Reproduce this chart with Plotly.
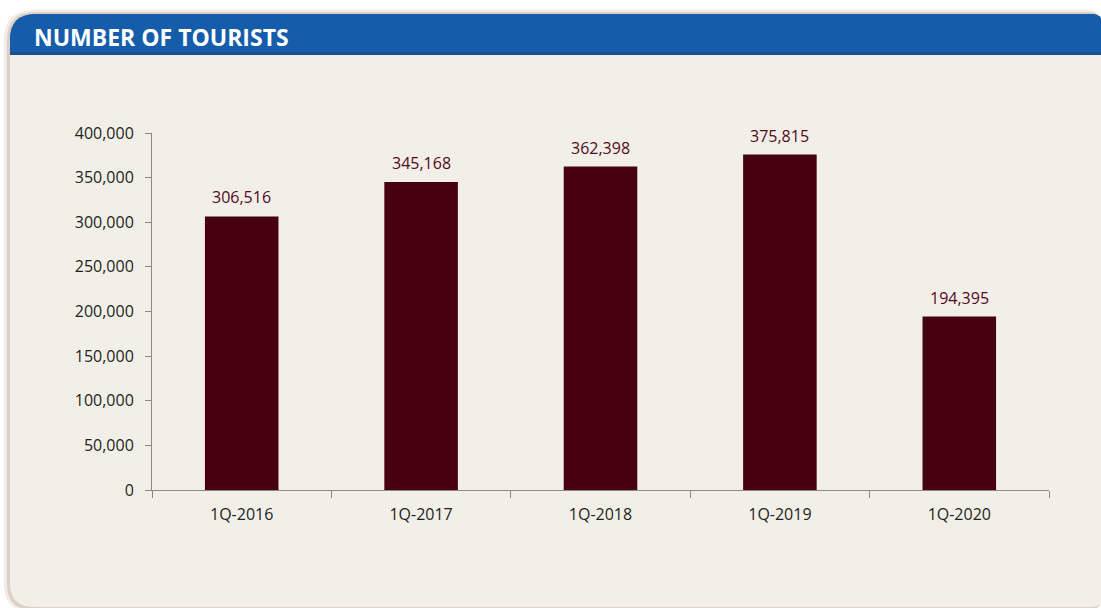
import plotly.graph_objects as go

categories = ["1Q-2016", "1Q-2017", "1Q-2018", "1Q-2019", "1Q-2020"]
tourists = [306516, 345168, 362398, 375815, 194395]
labels = ["306,516", "345,168", "362,398", "375,815", "194,395"]

W, H = 1101, 608
L, R, T, B = 152, 1049, 133, 490

def px(x):
    return (x - L) / (R - L)

def py(y):
    return (B - y) / (B - T)

def rounded_path(x0, y0, x1, y1, rtl, rtr, rbr, rbl):
    pts = []
    pts.append(f"M {px(x0)},{py(y0 + rtl)}")
    pts.append(f"Q {px(x0)},{py(y0)} {px(x0 + rtl)},{py(y0)}")
    pts.append(f"L {px(x1 - rtr)},{py(y0)}")
    pts.append(f"Q {px(x1)},{py(y0)} {px(x1)},{py(y0 + rtr)}")
    pts.append(f"L {px(x1)},{py(y1 - rbr)}")
    pts.append(f"Q {px(x1)},{py(y1)} {px(x1 - rbr)},{py(y1)}")
    pts.append(f"L {px(x0 + rbl)},{py(y1)}")
    pts.append(f"Q {px(x0)},{py(y1)} {px(x0)},{py(y1 - rbl)}")
    pts.append("Z")
    return " ".join(pts)

shapes = [
    # soft shadow
    dict(type="path", xref="paper", yref="paper", layer="below",
         path=rounded_path(4, 10, 1101, 612, 30, 14, 14, 28),
         fillcolor="#F1ECE8", line=dict(width=0)),
    dict(type="path", xref="paper", yref="paper", layer="below",
         path=rounded_path(7, 12, 1101, 610, 28, 12, 12, 26),
         fillcolor="#DCCFC5", line=dict(width=0)),
    # card
    dict(type="path", xref="paper", yref="paper", layer="below",
         path=rounded_path(10, 14, 1103, 607, 26, 12, 12, 24),
         fillcolor="#F2EFE9", line=dict(width=0)),
    # header
    dict(type="path", xref="paper", yref="paper", layer="below",
         path=rounded_path(10, 14, 1103, 55, 26, 12, 0, 0),
         fillcolor="#1A5090", line=dict(width=0)),
    dict(type="path", xref="paper", yref="paper", layer="below",
         path=rounded_path(10, 14, 1103, 52, 26, 12, 0, 0),
         fillcolor="#155DAA", line=dict(width=0)),
]

fig = go.Figure()
fig.add_trace(go.Bar(
    x=categories, y=tourists,
    marker=dict(color="#470010", line=dict(width=0)),
    width=0.41,
    hoverinfo="skip",
))

annotations = [
    dict(x=c, y=v, text=t, xref="x", yref="y", showarrow=False,
         yanchor="bottom", yshift=6,
         font=dict(family="Open Sans", size=16, color="#55091C"))
    for c, v, t in zip(categories, tourists, labels)
]
annotations.append(dict(
    x=px(32), y=py(37), xref="paper", yref="paper", xanchor="left", yanchor="middle",
    text="<b>NUMBER OF TOURISTS</b>", showarrow=False,
    font=dict(family="Open Sans", size=23, color="#FFFFFF")))

fig.update_layout(
    width=W, height=H,
    margin=dict(l=L, r=W - R, t=T, b=H - B, pad=0),
    paper_bgcolor="#FFFFFF",
    plot_bgcolor="rgba(0,0,0,0)",
    shapes=shapes,
    annotations=annotations,
    showlegend=False,
    xaxis=dict(
        showline=True, linecolor="#8A8A8A", linewidth=1,
        ticks="outside", tickson="boundaries", ticklen=7, tickcolor="#8A8A8A",
        ticklabelstandoff=10,
        showgrid=False,
        tickfont=dict(family="Open Sans", size=16, color="#231F20"),
        fixedrange=True,
    ),
    yaxis=dict(
        range=[0, 400000], dtick=50000, tickformat=",",
        showline=True, linecolor="#8A8A8A", linewidth=1,
        ticks="outside", ticklen=6, tickcolor="#8A8A8A",
        ticklabelstandoff=8,
        showgrid=False, zeroline=False,
        tickfont=dict(family="Open Sans", size=16, color="#231F20"),
        fixedrange=True,
    ),
)

fig.write_html("out.html")
